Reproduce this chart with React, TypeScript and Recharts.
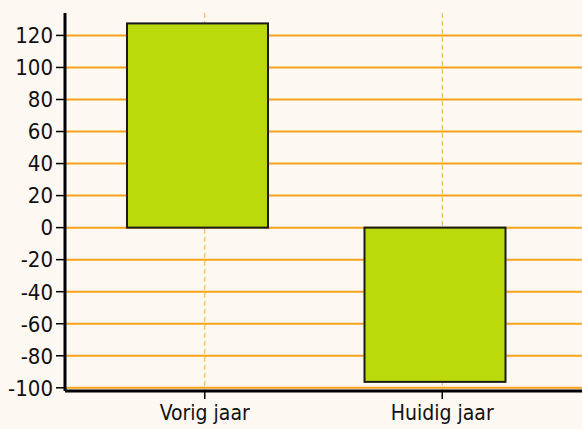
import { BarChart, Bar, XAxis, YAxis, CartesianGrid } from "recharts";

const categories = ["Vorig jaar", "Huidig jaar"];
const values = [127.5, -96.3];
const yTicks = [-100, -80, -60, -40, -20, 0, 20, 40, 60, 80, 100, 120];

const data = categories.map((name, i) => ({ name, value: values[i] }));

const font = "'DejaVu Sans Condensed', 'DejaVu Sans', sans-serif";

function applyScale(axis: any, v: any) {
  const s = axis && axis.scale;
  if (!s) return NaN;
  if (typeof s === "function") return s(v);
  if (typeof s.map === "function") return s.map(v);
  return NaN;
}

function bandWidth(axis: any) {
  const s = axis && axis.scale;
  if (s && typeof s.bandwidth === "function") return s.bandwidth();
  return axis && axis.bandSize ? axis.bandSize : 0;
}

// only the tick values get a gridline, not the domain edges
const hLines = ({ yAxis }: any) =>
  yTicks.map((t) => applyScale(yAxis, t)).filter((v) => Number.isFinite(v));

const vLines = ({ xAxis }: any) =>
  categories
    .map((c) => applyScale(xAxis, c) + bandWidth(xAxis) / 2)
    .filter((v) => Number.isFinite(v));

// bars sit a little left of the category centre in the original
function ShiftedBar(props: any) {
  const { x, y, width, height } = props;
  const top = height < 0 ? y + height : y;
  return (
    <rect
      x={x - 7}
      y={top}
      width={width}
      height={Math.abs(height)}
      fill="#bcd90c"
      stroke="#1a1a1a"
      strokeWidth={2}
    />
  );
}

export default function App() {
  return (
    <div
      style={{
        position: "fixed",
        left: 0,
        top: 0,
        width: 582,
        height: 429,
        background: "#fdf8f2",
      }}
    >
      <BarChart
        width={582}
        height={429}
        data={data}
        margin={{ top: 13, right: 0, bottom: 0, left: 0 }}
      >
        <CartesianGrid
          horizontal={false}
          verticalCoordinatesGenerator={vLines}
          stroke="#f2b04a"
          strokeDasharray="5 3"
          strokeWidth={1}
        />
        <CartesianGrid
          vertical={false}
          horizontalCoordinatesGenerator={hLines}
          stroke="#f7a21b"
          strokeWidth={2}
        />
        <XAxis
          dataKey="name"
          height={38}
          padding={{ left: 21, right: 21 }}
          axisLine={{ stroke: "#000", strokeWidth: 3 }}
          tickLine={{ stroke: "#000", strokeWidth: 1.5 }}
          tickSize={8}
          tickMargin={6}
          tick={{ fill: "#111", fontSize: 21, fontFamily: font }}
        />
        <YAxis
          width={65}
          domain={[-102, 134]}
          ticks={yTicks}
          interval={0}
          axisLine={{ stroke: "#000", strokeWidth: 3 }}
          tickLine={{ stroke: "#000", strokeWidth: 1.5 }}
          tickSize={9}
          tickMargin={3}
          tick={{ fill: "#111", fontSize: 22, fontFamily: font }}
        />
        <Bar
          dataKey="value"
          barSize={141}
          shape={<ShiftedBar />}
          isAnimationActive={false}
        />
      </BarChart>
    </div>
  );
}
